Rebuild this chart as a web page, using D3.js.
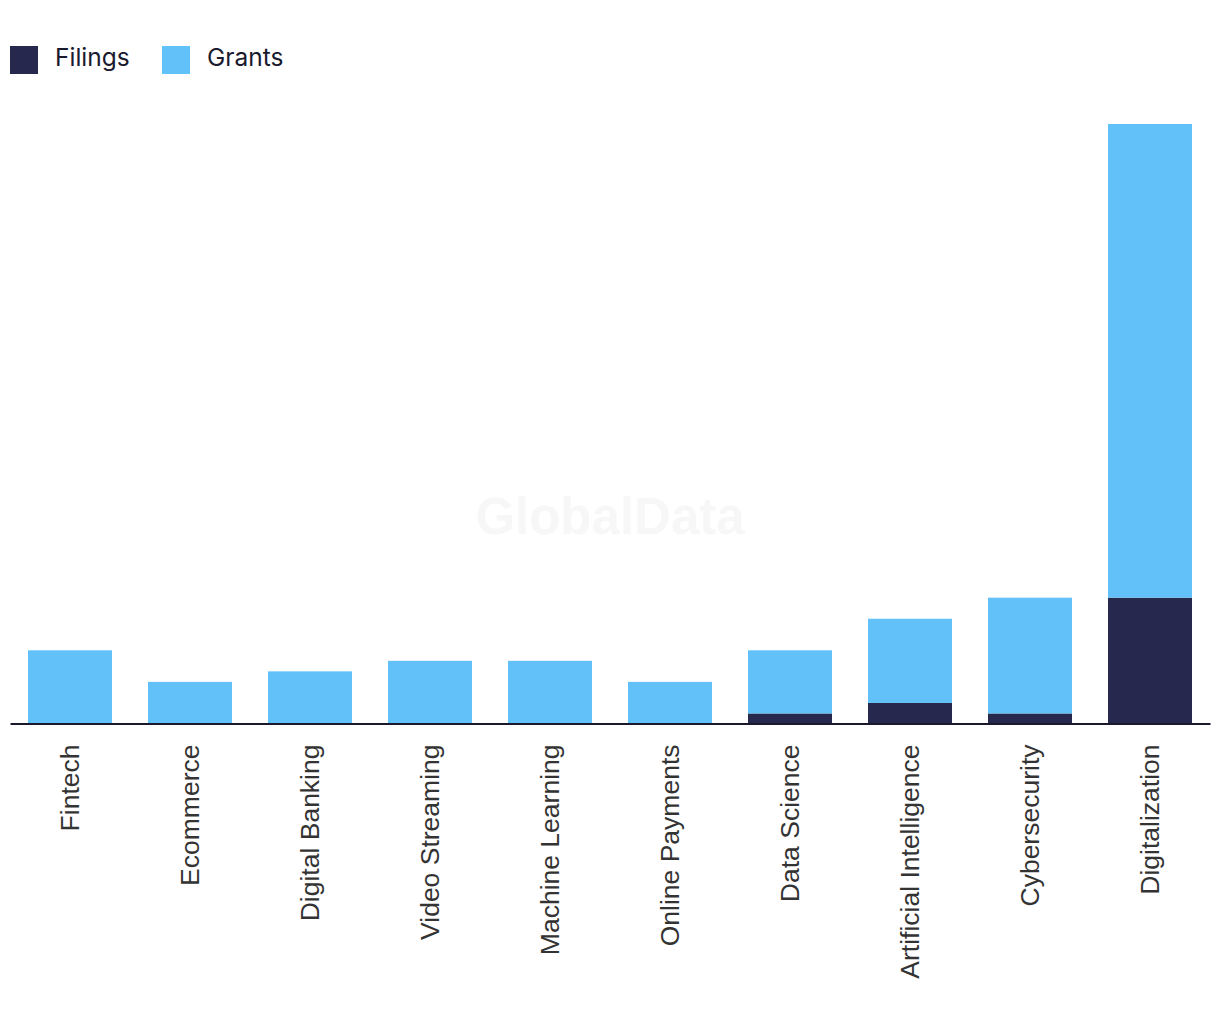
<!DOCTYPE html>
<html><head><meta charset="utf-8">
<script src="https://cdn.jsdelivr.net/npm/d3@7/dist/d3.min.js"></script>
<style>body{margin:0;background:#fff;} svg{display:block;}</style>
</head><body>
<svg id="c" width="1220" height="1030"></svg>
<script>
const categories = ["Fintech","Ecommerce","Digital Banking","Video Streaming","Machine Learning","Online Payments","Data Science","Artificial Intelligence","Cybersecurity","Digitalization"];
const filings = [0,0,0,0,0,0,1,2,1,12];
const grants  = [7,4,5,6,6,4,6,8,11,45];
const seriesNames = ["Filings","Grants"];
const colors = ["#27284d","#62c1f9"];

const svg = d3.select("#c");
const x = d3.scaleBand().domain(categories).range([10,1210]).paddingInner(0.3).paddingOuter(0.15);
const y = d3.scaleLinear().domain([0,57]).range([724,124]);

svg.append("text").attr("x",610).attr("y",534).attr("text-anchor","middle")
  .attr("font-family","Liberation Sans, Arial, sans-serif").attr("font-weight","bold")
  .attr("font-size",51).attr("fill","#f7f7f7").text("GlobalData");

const data = categories.map((c,i)=>({cat:c, Filings:filings[i], Grants:grants[i]}));
const stack = d3.stack().keys(seriesNames)(data);
svg.append("g").selectAll("g").data(stack).join("g").attr("fill",(d,i)=>colors[i])
  .selectAll("rect").data(d=>d).join("rect")
  .attr("x",d=>x(d.data.cat)).attr("width",x.bandwidth())
  .attr("y",d=>y(d[1])).attr("height",d=>y(d[0])-y(d[1]));

const ax = svg.append("g").attr("transform","translate(0,723.5)").call(d3.axisBottom(x).tickSize(0).tickSizeOuter(0));
ax.select(".domain").attr("stroke","#1a1a2e").attr("stroke-width",2);
ax.selectAll("text").attr("font-family","Liberation Sans, Arial, sans-serif").attr("font-size",26.5)
  .attr("fill","#333").attr("transform","rotate(-90)").attr("text-anchor","end")
  .attr("x",-21).attr("y",0).attr("dy","0.35em");

const leg = svg.append("g");
const legX = [10,162];
seriesNames.forEach((n,i)=>{
  leg.append("rect").attr("x",legX[i]).attr("y",46).attr("width",28).attr("height",28).attr("fill",colors[i]);
  leg.append("text").attr("x",legX[i]+45).attr("y",66)
    .attr("font-family","Inter, Liberation Sans, sans-serif").attr("font-size",24.5).attr("fill","#1a1a2e").text(n);
});
</script>
</body></html>
